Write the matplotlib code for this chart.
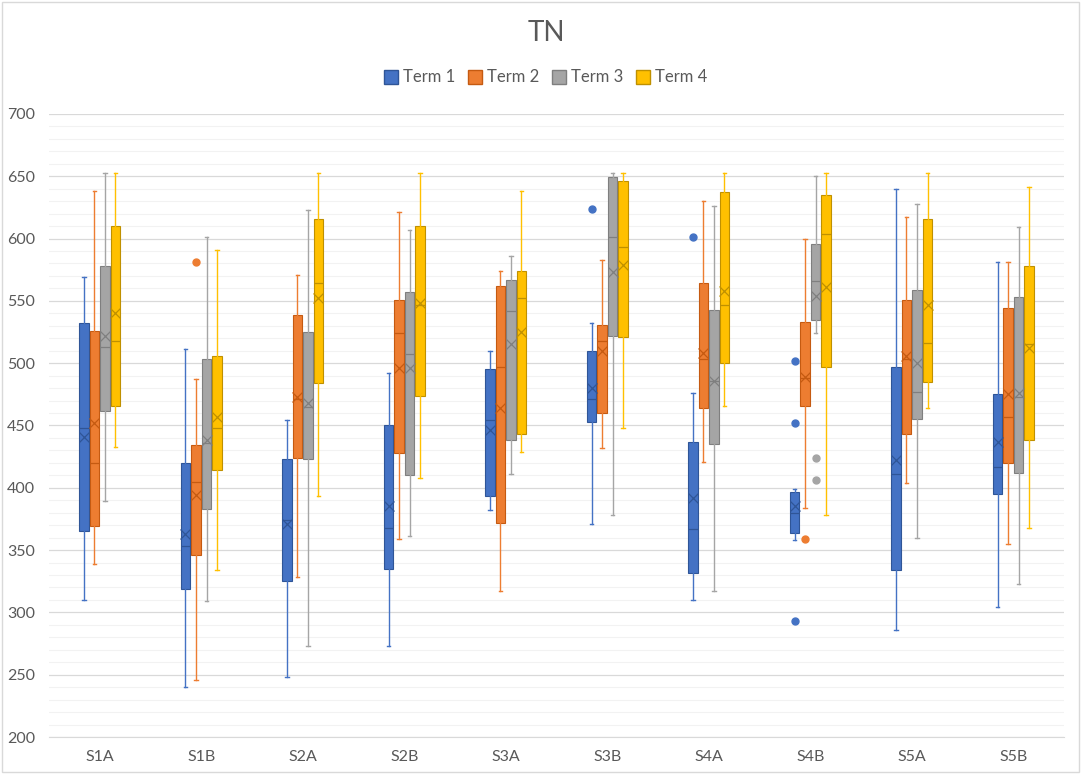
import matplotlib
matplotlib.use("Agg")
import matplotlib.pyplot as plt
from matplotlib.patches import Rectangle
from matplotlib.lines import Line2D
from matplotlib.ticker import MultipleLocator

categories = ["S1A", "S1B", "S2A", "S2B", "S3A", "S3B", "S4A", "S4B", "S5A", "S5B"]
terms = ["Term 1", "Term 2", "Term 3", "Term 4"]

# one row per term, one value per category
whislo = [
    [310, 240, 248, 273, 382, 371, 310, 358, 286, 304],
    [339, 246, 328, 359, 317, 432, 421, 384, 404, 355],
    [389, 309, 273, 361, 411, 378, 317, 524, 360, 323],
    [433, 334, 393, 408, 429, 448, 466, 378, 464, 368],
]
q1 = [
    [365, 319, 325, 335, 393, 453, 332, 364, 334, 395],
    [369, 346, 424, 428, 372, 460, 464, 466, 443, 420],
    [462, 383, 423, 410, 438, 522, 435, 535, 455, 412],
    [466, 414, 484, 474, 443, 521, 500, 497, 485, 438],
]
med = [
    [448, 353, 374, 368, 454, 471, 367, 380, 411, 417],
    [420, 405, 471, 524, 497, 518, 503, 488, 503, 457],
    [513, 436, 465, 507, 542, 601, 486, 566, 477, 473],
    [518, 448, 564, 547, 552, 593, 547, 604, 516, 515],
]
q3 = [
    [532, 420, 423, 450, 495, 510, 437, 397, 497, 475],
    [526, 434, 539, 551, 562, 531, 564, 533, 551, 544],
    [578, 503, 525, 557, 567, 649, 543, 596, 559, 553],
    [610, 506, 616, 610, 574, 646, 637, 635, 616, 578],
]
whishi = [
    [569, 511, 454, 492, 510, 532, 476, 399, 640, 581],
    [638, 487, 571, 621, 574, 583, 630, 600, 617, 581],
    [653, 601, 623, 607, 586, 653, 626, 650, 628, 609],
    [653, 591, 653, 653, 638, 653, 653, 653, 653, 641],
]
means = [
    [441, 363, 371, 385, 446, 480, 392, 385, 422, 437],
    [452, 394, 473, 496, 464, 510, 508, 489, 506, 475],
    [522, 438, 468, 496, 515, 573, 486, 554, 500, 476],
    [540, 457, 552, 548, 525, 579, 558, 561, 547, 512],
]
fliers = [
    [[], [], [], [], [], [624], [601], [502, 452, 293], [], []],
    [[], [581], [], [], [], [], [], [359], [], []],
    [[], [], [], [], [], [], [], [424, 406], [], []],
    [[], [], [], [], [], [], [], [], [], []],
]

fill_colors = ["#4472C4", "#ED7D31", "#A5A5A5", "#FFC000"]
dark_colors = ["#2F5597", "#C55A11", "#7F7F7F", "#BF9000"]
offsets = [-0.155, -0.052, 0.052, 0.155]
text_color = "#595959"

plt.rcParams["font.family"] = ["Lato", "DejaVu Sans"]

fig = plt.figure(figsize=(10.81, 7.74), dpi=100)
ax = fig.add_axes([0.0453, 0.0478, 0.939, 0.805])

for t in range(4):
    stats = []
    for i in range(len(categories)):
        stats.append({
            "whislo": whislo[t][i], "q1": q1[t][i], "med": med[t][i],
            "q3": q3[t][i], "whishi": whishi[t][i], "mean": means[t][i],
            "fliers": fliers[t][i],
        })
    pos = [i + offsets[t] for i in range(len(categories))]
    ax.bxp(stats, positions=pos, widths=0.095, capwidths=0.035,
           showmeans=True, patch_artist=True, manage_ticks=False,
           boxprops=dict(facecolor=fill_colors[t], edgecolor=dark_colors[t], linewidth=0.8),
           medianprops=dict(color=dark_colors[t], linewidth=0.9),
           meanprops=dict(marker="x", markeredgecolor=dark_colors[t], markersize=7,
                          markeredgewidth=0.9),
           whiskerprops=dict(color=fill_colors[t], linewidth=1.0),
           capprops=dict(color=fill_colors[t], linewidth=1.0),
           flierprops=dict(marker="o", markerfacecolor=fill_colors[t],
                           markeredgecolor=fill_colors[t], markersize=5),
           zorder=3)

ax.set_xlim(-0.5, len(categories) - 0.5)
ax.set_ylim(200, 700)
ax.yaxis.set_major_locator(MultipleLocator(50))
ax.yaxis.set_minor_locator(MultipleLocator(10))
ax.set_xticks(range(len(categories)))
ax.set_xticklabels(categories)
ax.grid(axis="y", which="major", color="#D9D9D9", linewidth=0.9, zorder=0)
ax.grid(axis="y", which="minor", color="#F2F2F2", linewidth=0.8, zorder=0)
ax.set_axisbelow(True)
ax.tick_params(axis="both", which="both", length=0, labelsize=11.5, colors=text_color)
ax.tick_params(axis="y", pad=10)
ax.tick_params(axis="x", pad=9)
for side in ["left", "right", "top"]:
    ax.spines[side].set_visible(False)
ax.spines["bottom"].set_color("#D9D9D9")

fig.text(0.505, 0.957, "TN", ha="center", va="center", fontsize=20, color=text_color)

handles = [Line2D([], [], marker="s", linestyle="none", markersize=10,
                  markerfacecolor=fill_colors[t], markeredgecolor=dark_colors[t],
                  label=terms[t]) for t in range(4)]
fig.legend(handles=handles, loc="center", bbox_to_anchor=(0.505, 0.9), ncol=4,
           frameon=False, fontsize=12, handlelength=0.8, handletextpad=0.35,
           columnspacing=0.75, labelcolor=text_color)

fig.patches.append(Rectangle((0.002, 0.002), 0.996, 0.996, transform=fig.transFigure,
                             fill=False, edgecolor="#D9D9D9", linewidth=1.0))

fig.savefig("out.png", dpi=100, facecolor="white")
